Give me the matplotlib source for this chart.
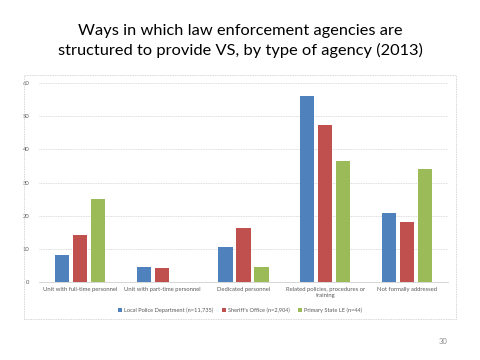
import matplotlib
matplotlib.use("Agg")
import matplotlib.pyplot as plt
import matplotlib.patches as mpatches
import numpy as np

plt.rcParams["font.family"] = ["Lato", "DejaVu Sans"]

categories = [
    "Unit with full-time personnel",
    "Unit with part-time personnel",
    "Dedicated personnel",
    "Related policies, procedures or\ntraining",
    "Not formally addressed",
]
series_names = [
    "Local Police Department (n=11,735)",
    "Sheriff's Office (n=2,904)",
    "Primary State LE (n=44)",
]
local_police = [8.0, 4.4, 10.4, 56.2, 20.7]
sheriff = [14.1, 4.2, 16.1, 47.4, 18.0]
state_le = [25.0, 0.0, 4.4, 36.4, 34.1]
yticks = [0, 10, 20, 30, 40, 50, 60]

colors = ["#4F81BD", "#C0504D", "#9BBB59"]
series = [local_police, sheriff, state_le]

fig = plt.figure(figsize=(4.8, 3.6), dpi=100)
ax = fig.add_axes([0.082, 0.2175, 0.851, 0.551])

x = np.arange(len(categories))
bar_width = 0.175
step = 0.22
for i, vals in enumerate(series):
    ax.bar(x + (i - 1) * step, vals, bar_width, color=colors[i],
           label=series_names[i], zorder=2)

ax.set_xlim(-0.5, len(categories) - 0.5)
ax.set_ylim(0, 60)
ax.set_yticks(yticks)
ax.set_xticks(x)
ax.set_xticklabels(categories, fontsize=4.2, color="#595959", linespacing=1.1)
ax.tick_params(axis="y", labelsize=4.2, labelcolor="#595959", length=0, pad=7)
ax.tick_params(axis="x", length=0, pad=4)
ax.grid(axis="y", color="#D0D0D0", linestyle=(0, (1, 1)), linewidth=0.6, zorder=0)
for s in ["top", "right", "left"]:
    ax.spines[s].set_visible(False)
ax.spines["bottom"].set_color("#D0D0D0")
ax.spines["bottom"].set_linewidth(0.6)

leg = fig.legend(loc="center", bbox_to_anchor=(0.5, 1 - 310 / 360), ncol=3,
                 frameon=False, fontsize=4.1, handlelength=0.7, handleheight=0.7,
                 handletextpad=0.4, columnspacing=1.5)
for t in leg.get_texts():
    t.set_color("#595959")

# chart frame
frame = mpatches.Rectangle((24 / 480, 1 - 319 / 360), 432 / 480, 244 / 360,
                           transform=fig.transFigure, fill=False,
                           edgecolor="#C8C8C8", linestyle=(0, (1, 1)),
                           linewidth=0.6)
fig.patches.append(frame)

fig.text(0.5, 1 - 41 / 360,
         "Ways in which law enforcement agencies are\nstructured to provide VS, by type of agency (2013)",
         ha="center", va="center", fontsize=11.8, color="#000000", linespacing=1.45)
fig.text(443 / 480, 1 - 342 / 360, "30", ha="center", va="center",
         fontsize=5.5, color="#8C8C8C")

fig.savefig("out.png", dpi=100)
